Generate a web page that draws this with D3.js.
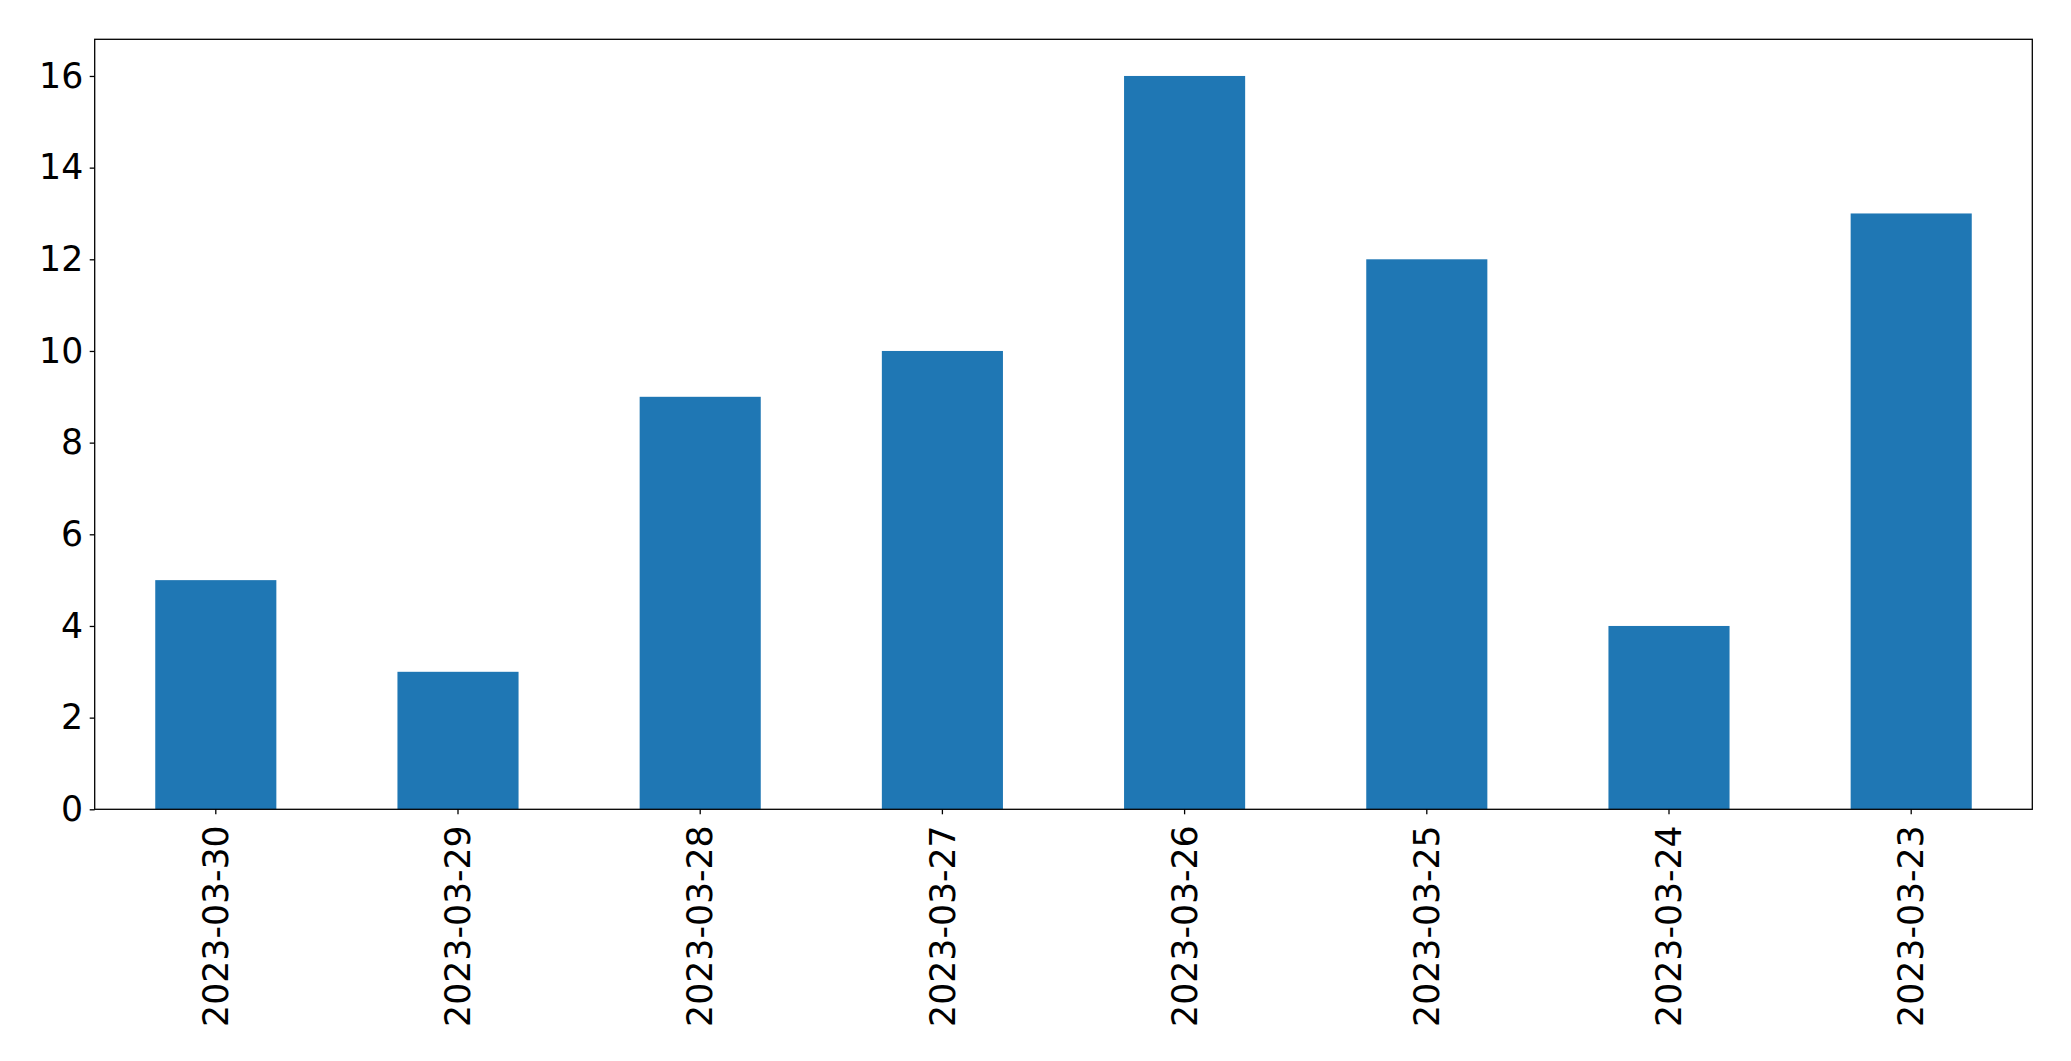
<!DOCTYPE html>
<html><head><meta charset="utf-8">
<script src="https://cdn.jsdelivr.net/npm/d3@7"></script>
<style>body{margin:0;background:#fff;}svg{display:block;}</style>
</head><body>
<svg id="c" width="2071" height="1061"></svg>
<script>
const categories = ["2023-03-30","2023-03-29","2023-03-28","2023-03-27","2023-03-26","2023-03-25","2023-03-24","2023-03-23"];
const values = [5,3,9,10,16,12,4,13];
const yTicks = [0,2,4,6,8,10,12,14,16];

const svg = d3.select("#c");
const L = 94.7, R = 2032.3, T = 39.3, B = 809.3;
const font = "DejaVu Sans, sans-serif", fs = 34.7;

const x = d3.scaleBand().domain(categories).range([L, R]).paddingInner(0.5).paddingOuter(0.25);
const y = d3.scaleLinear().domain([0, 16.8]).range([B, T]);

svg.append("g").selectAll("rect").data(values).join("rect")
  .attr("x", (d,i) => x(categories[i]))
  .attr("width", x.bandwidth())
  .attr("y", d => y(d))
  .attr("height", d => B - y(d))
  .attr("fill", "#1f77b4");

const yAxis = svg.append("g").attr("transform", `translate(${L},0)`)
  .call(d3.axisLeft(y).tickValues(yTicks).tickSize(5).tickPadding(6.5).tickFormat(d3.format("d")));
yAxis.select(".domain").remove();
yAxis.selectAll("line").attr("stroke", "#000").attr("stroke-width", 1.3);
yAxis.selectAll("text").attr("font-family", font).attr("font-size", fs).attr("fill", "#000");

const xAxis = svg.append("g").attr("transform", `translate(0,${B})`)
  .call(d3.axisBottom(x).tickSize(5).tickPadding(12));
xAxis.select(".domain").remove();
xAxis.selectAll("line").attr("stroke", "#000").attr("stroke-width", 1.3);
xAxis.selectAll("text")
  .attr("font-family", font).attr("font-size", fs).attr("fill", "#000")
  .attr("transform", "rotate(-90)")
  .attr("x", -16).attr("y", 0).attr("dy", "0.35em")
  .attr("text-anchor", "end");

svg.append("rect").attr("x", L).attr("y", T).attr("width", R - L).attr("height", B - T)
  .attr("fill", "none").attr("stroke", "#000").attr("stroke-width", 1.3);
</script>
</body></html>
